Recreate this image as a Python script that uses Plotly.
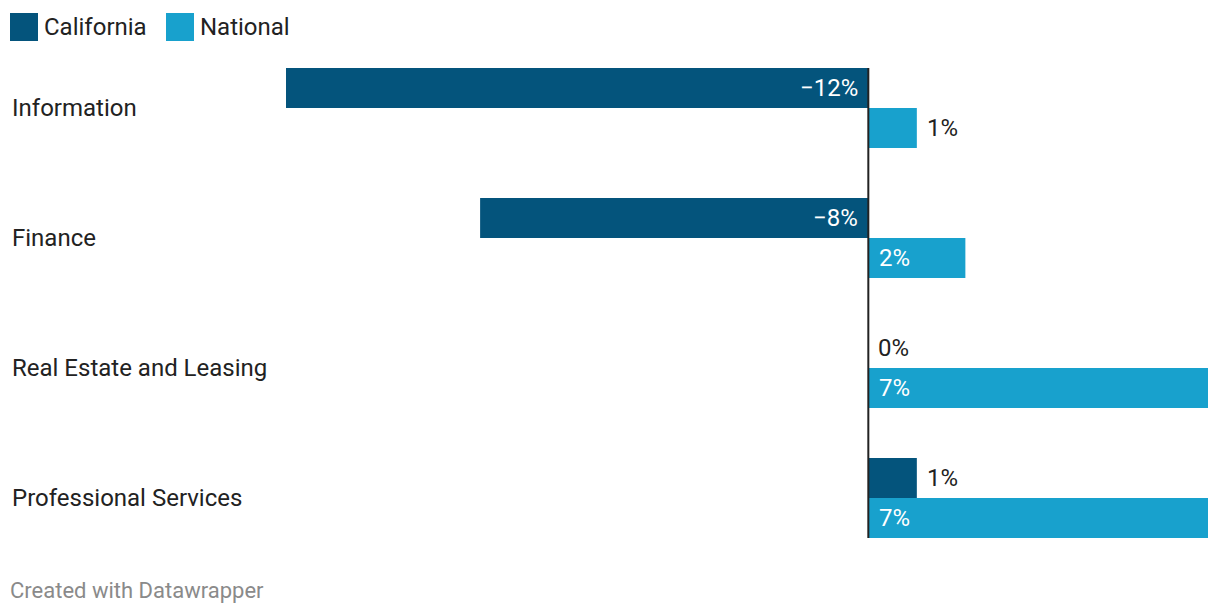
import plotly.graph_objects as go

categories = ["Information", "Finance", "Real Estate and Leasing", "Professional Services"]
series_names = ["California", "National"]
california = [-12, -8, 0, 1]
national = [1, 2, 7, 7]
colors = ["#04547c", "#18a1cd"]

OFF = 8  # page body margin
W, H = 1204, 600
L, R, T, B = 278, 4, 60, 70
PW, PH = W - L - R, H - T - B

pitch = 130.0
group_px = 80.0
half = group_px / 2 / pitch
ypos = list(range(len(categories)))

fig = go.Figure()
for name, vals, col, off in [(series_names[0], california, colors[0], -0.5),
                             (series_names[1], national, colors[1], 0.5)]:
    fig.add_trace(go.Bar(
        y=[y + off * half for y in ypos], x=vals, orientation="h",
        width=half, marker=dict(color=col, line=dict(width=0)),
        name=name, showlegend=False, hoverinfo="skip",
    ))

xmin, xmax = -12, 7
font = "Roboto, 'Open Sans', sans-serif"
FS = 24
ann = []

def fmt(v):
    return ("\u2212" if v < 0 else "") + f"{abs(v)}%"

for vals, off in [(california, -0.5), (national, 0.5)]:
    for y, v in zip(ypos, vals):
        yy = y + off * half
        if abs(v) >= 2:
            if v < 0:
                ann.append(dict(x=0, y=yy, text=fmt(v), xanchor="right", xshift=-8,
                                font=dict(color="white", size=FS, family=font), showarrow=False))
            else:
                ann.append(dict(x=0, y=yy, text=fmt(v), xanchor="left", xshift=9,
                                font=dict(color="white", size=FS, family=font), showarrow=False))
        else:
            ann.append(dict(x=v, y=yy, text=fmt(v), xanchor="left", xshift=8,
                            font=dict(color="#222", size=FS, family=font), showarrow=False))

def px_x(px):
    return (px - OFF - L) / PW

def px_y(py):
    return (OFF + H - B - py) / PH

for y, c in zip(ypos, categories):
    ann.append(dict(xref="paper", x=px_x(10), y=y, text=c, xanchor="left",
                    font=dict(color="#222", size=FS, family=font), showarrow=False))

shapes = [dict(type="line", xref="x", yref="paper", x0=0, x1=0, y0=0, y1=1,
               line=dict(color="#222", width=2))]

# legend
lx = 10
for name, col, tw in [(series_names[0], colors[0], 100), (series_names[1], colors[1], 90)]:
    shapes.append(dict(type="rect", xref="paper", yref="paper",
                       x0=px_x(lx), x1=px_x(lx + 28), y0=px_y(41), y1=px_y(13),
                       fillcolor=col, line=dict(width=0)))
    ann.append(dict(xref="paper", yref="paper", x=px_x(lx + 32), y=px_y(27), text=name,
                    xanchor="left", yanchor="middle",
                    font=dict(color="#222", size=FS, family=font), showarrow=False))
    lx += 34 + tw + 22

ann.append(dict(xref="paper", yref="paper", x=px_x(8), y=px_y(590),
                text="Created with Datawrapper", xanchor="left", yanchor="middle",
                font=dict(color="#8a8a8a", size=22, family=font), showarrow=False))

fig.update_layout(
    width=W, height=H, margin=dict(l=L, r=R, t=T, b=B),
    paper_bgcolor="white", plot_bgcolor="white",
    barmode="overlay",
    xaxis=dict(range=[xmin, xmax], visible=False, fixedrange=True),
    yaxis=dict(range=[len(categories) - 1 + half, -half], visible=False, fixedrange=True),
    annotations=ann, shapes=shapes, showlegend=False,
)
fig.write_html("out.html")
